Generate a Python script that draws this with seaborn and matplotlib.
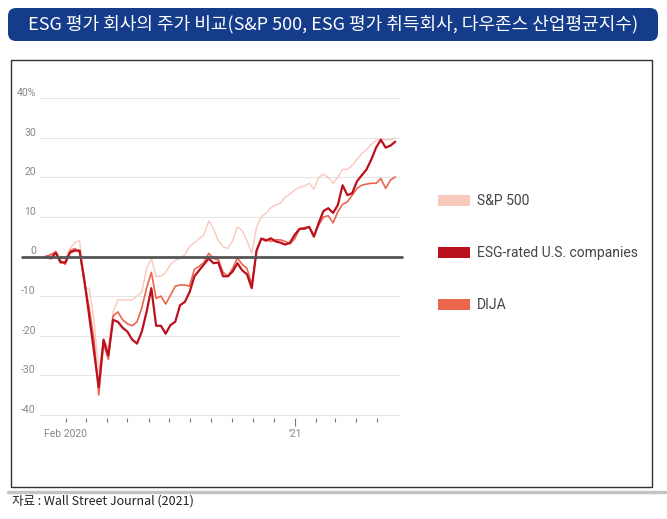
import numpy as np
import pandas as pd
import matplotlib
matplotlib.use('Agg')
import matplotlib.pyplot as plt
import seaborn as sns
from matplotlib.patches import FancyBboxPatch, Rectangle, Patch
from matplotlib.lines import Line2D

# weekly closes (Fridays), % change since start of 2020
dates = pd.date_range('2020-01-03', '2021-05-28', freq='W-FRI')

sp500 = [0, 0.5, 1.5, -0.5, -0.5, 2, 3.5, 4,
         -8, -8, -16, -29, -21, -23, -14, -11, -11, -11, -11, -10, -9, -3, -0.5, -5,
         -5, -4, -2, -1, -0.5, 0.5, 2.5, 3.5, 4.5, 5.5, 9, 7, 4, 2.5, 2, 4, 7.5, 6.5, 4, 0.8,
         7.5, 10, 11, 12.3, 13, 13.5, 15, 15.8, 16.8, 17.5, 17.8, 18.5, 17, 20, 20.8, 20,
         18.5, 20, 22, 22, 23, 24.5, 26, 27, 28.3, 29.3, 29.8, 29.5, 29.5, 30]
esg = [0, -0.5, 1, -1.5, -1.5, 1, 1.5, 1.5,
       -6, -15, -24, -33, -21, -25, -16, -16.5, -18, -19, -21, -22, -19, -14, -8, -17.5,
       -17.5, -19.5, -17.3, -16.5, -12.3, -11.5, -9, -5, -3.5, -2, -0.5, -1.7, -1.5, -5, -5, -3.8, -1.7, -3.5, -4.5, -8,
       1.5, 4.5, 4, 4.6, 3.8, 3.5, 3, 3.5, 5.5, 7, 7, 7.5, 5, 8.5, 11.5, 12.2,
       11, 13, 18, 15.5, 16, 19, 20.5, 22, 24.5, 27.5, 29.5, 27.5, 28, 29]
djia = [0, 0.5, 1, -1, -2, 1.5, 2, 1,
        -6.5, -13, -21, -35, -22, -26, -15, -14, -16, -17, -17.5, -16.5, -13, -8, -4, -10.6,
        -10, -12, -9.8, -7.5, -7.2, -7.2, -7.5, -3.2, -2.5, -1.5, 0.8, -0.5, -0.8, -4, -5, -3, -0.4, -2, -3, -7.2,
        1.5, 4.6, 4.3, 3.8, 4.2, 4.2, 3.8, 3.2, 4.5, 7, 7.3, 7.5, 5.4, 7.9, 10, 10.3,
        8.5, 11.3, 13.2, 13.8, 15.5, 17.2, 18, 18.3, 18.5, 18.5, 19.7, 17.2, 19.3, 20.1]

names = ['S&P 500', 'ESG-rated U.S. companies', 'DIJA']
colors = {'S&P 500': '#f8c9bc', 'ESG-rated U.S. companies': '#bb101d', 'DIJA': '#ec654d'}
widths = {'S&P 500': 1.0, 'ESG-rated U.S. companies': 1.6, 'DIJA': 1.2}

y_ticks = [-40, -30, -20, -10, 0, 10, 20, 30, 40]
y_labels = ['-40', '-30', '-20', '-10', '0', '10', '20', '30', '40%']
months = pd.date_range('2020-02-01', '2021-05-01', freq='MS')
month_labels = ['Feb 2020' if m == months[0] else ("'21" if (m.month == 1) else '') for m in months]

df = pd.DataFrame({
    'date': np.tile(dates, 3),
    'value': sp500 + djia + esg,
    'series': ['S&P 500'] * len(dates) + ['DIJA'] * len(dates) + ['ESG-rated U.S. companies'] * len(dates),
})

sns.set_theme(style='white')
plt.rcParams['font.family'] = ['Roboto', 'Noto Sans CJK KR', 'DejaVu Sans']

W, H = 667, 519
fig = plt.figure(figsize=(W / 100, H / 100), dpi=100)
ax = fig.add_axes([40 / W, (H - 418) / H, 360 / W, 323 / H])

sns.lineplot(data=df, x='date', y='value', hue='series', size='series',
             hue_order=['S&P 500', 'DIJA', 'ESG-rated U.S. companies'],
             palette=colors, sizes=widths, legend=False, ax=ax)

ax.set_xlim(pd.Timestamp('2019-12-25'), pd.Timestamp('2021-06-04'))
ax.set_ylim(-40.8, 40.8)
ax.set_xlabel('')
ax.set_ylabel('')
for s in ax.spines.values():
    s.set_visible(False)

ax.set_yticks(y_ticks)
ax.set_yticklabels(y_labels)
ax.yaxis.grid(True, color='#e6e6e6', lw=0.8)
ax.xaxis.grid(False)
ax.tick_params(axis='y', length=0, pad=3, labelsize=7.5, labelcolor='#888888')
for lab in ax.get_yticklabels():
    lab.set_verticalalignment('bottom')
ax.axhline(0, color='#555555', lw=2, xmin=-0.05, xmax=1.005, clip_on=False)

ax.set_xticks(months)
ax.set_xticklabels(month_labels)
ax.tick_params(axis='x', bottom=True, length=3, width=0.8, color='#777777', pad=5,
               labelsize=7.5, labelcolor='#888888')
ax.xaxis.get_major_ticks()[11].tick1line.set_markersize(6)

handles = [Patch(facecolor=colors[n], edgecolor='none', label=n) for n in names]
leg = fig.legend(handles=handles, loc='upper left', bbox_to_anchor=(4.38, 3.25),
                 bbox_transform=fig.dpi_scale_trans, frameon=False, fontsize=10,
                 handlelength=2.3, handleheight=0.86, handletextpad=0.5,
                 labelspacing=2.75, borderpad=0, borderaxespad=0)
for t in leg.get_texts():
    t.set_color('#444444')

# title banner, frame, source
tr = fig.dpi_scale_trans
fig.add_artist(FancyBboxPatch((0.08, 4.78), 6.50, 0.33, boxstyle='round,pad=0,rounding_size=0.08',
                              transform=tr, fc='#143c8a', ec='none'))
fig.text(3.33, 4.945, 'ESG 평가 회사의 주가 비교(S&P 500, ESG 평가 취득회사, 다우존스 산업평균지수)',
         transform=tr, ha='center', va='center', color='white', fontsize=13,
         family=['Noto Sans CJK KR', 'DejaVu Sans'])
fig.add_artist(Rectangle((0.11, 0.32), 6.41, 4.27, transform=tr, fill=False, ec='#333333', lw=1))
fig.add_artist(Line2D([0.08, 6.67], [0.27, 0.27], transform=tr, color='#c4c4c4', lw=2.5))
fig.text(0.12, 0.18, '자료 : Wall Street Journal (2021)', transform=tr, ha='left', va='center',
         fontsize=9, color='#222222', family=['Noto Sans CJK KR', 'DejaVu Sans'])

fig.savefig('out.png', dpi=100)
